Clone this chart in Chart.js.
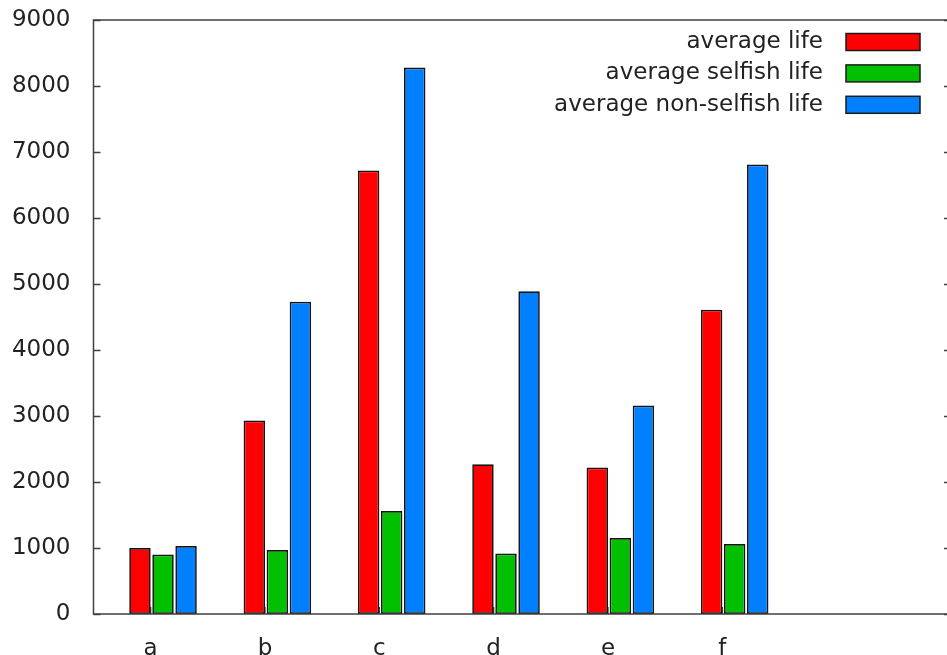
<!DOCTYPE html>
<html>
<head>
<meta charset="utf-8">
<script src="https://cdn.jsdelivr.net/npm/chart.js@4.4.1/dist/chart.umd.min.js"></script>
<style>
  html, body { margin:0; padding:0; background:#fff; overflow:hidden; }
  #wrap { width:952px; height:655px; position:relative; }
</style>
</head>
<body>
<div id="wrap"><canvas id="c"></canvas></div>
<script>
// data
const CATEGORIES = ['a', 'b', 'c', 'd', 'e', 'f'];
const SERIES = ['average life', 'average selfish life', 'average non-selfish life'];
const AVG_LIFE        = [1000, 2930, 6720, 2270, 2220, 4610];
const AVG_SELFISH     = [ 900,  970, 1560,  915, 1150, 1060];
const AVG_NON_SELFISH = [1030, 4730, 8280, 4890, 3160, 6810];
const Y_TICKS = [0, 1000, 2000, 3000, 4000, 5000, 6000, 7000, 8000, 9000];

const COLORS = ['#ff0000', '#00c000', '#0080ff'];
const FONT = { family: 'DejaVu Sans', size: 23, lineHeight: 1 };
const INK = '#222222';
const AXIS = '#404040';
const GROUP_SHIFT = 0.108; // bars sit a bit right of the tic, like gnuplot

const toPoints = vals => vals.map((v, i) => ({ x: i + GROUP_SHIFT, y: v }));

/* ticks pointing inward + frame, gnuplot style */
const framePlugin = {
  id: 'frame',
  beforeDatasetsDraw(chart) {
    const { ctx, chartArea: a, scales: { x, y } } = chart;
    ctx.save();
    ctx.strokeStyle = AXIS;
    ctx.lineWidth = 1.3;
    ctx.beginPath();
    y.ticks.forEach(t => {
      const py = Math.round(y.getPixelForValue(t.value)) + 0.5;
      ctx.moveTo(a.left, py); ctx.lineTo(a.left + 7, py);
      ctx.moveTo(a.right, py); ctx.lineTo(a.right - 7, py);
    });
    x.ticks.forEach(t => {
      const px = x.getPixelForValue(t.value);
      ctx.moveTo(px, a.bottom); ctx.lineTo(px, a.bottom - 7);
    });
    ctx.stroke();
    ctx.restore();
  },
  afterDatasetsDraw(chart) {
    const { ctx, chartArea: a } = chart;
    ctx.save();
    ctx.strokeStyle = AXIS;
    ctx.lineWidth = 1.5;
    ctx.strokeRect(a.left, a.top, a.right - a.left, a.bottom - a.top);
    ctx.restore();
  }
};

/* key: text first, swatch after, top right inside the plot */
const keyPlugin = {
  id: 'key',
  afterDraw(chart) {
    const { ctx, chartArea: a } = chart;
    ctx.save();
    ctx.font = `${FONT.size}px ${FONT.family}`;
    ctx.textAlign = 'right';
    ctx.textBaseline = 'middle';
    chart.data.datasets.forEach((ds, i) => {
      const cy = a.top + 22 + i * 31.4;
      ctx.fillStyle = INK;
      ctx.fillText(ds.label, a.right - 128, cy);
      ctx.fillStyle = ds.backgroundColor;
      ctx.fillRect(a.right - 105, cy - 8.5, 74, 17);
      ctx.strokeStyle = '#1a1a1a';
      ctx.lineWidth = 1.5;
      ctx.strokeRect(a.right - 105, cy - 8.5, 74, 17);
    });
    ctx.restore();
  }
};

const SERIES_VALUES = [AVG_LIFE, AVG_SELFISH, AVG_NON_SELFISH];

new Chart(document.getElementById('c'), {
  type: 'bar',
  data: {
    datasets: SERIES.map((name, i) => ({
      label: name,
      data: toPoints(SERIES_VALUES[i]),
      backgroundColor: COLORS[i],
      borderColor: '#141414',
      borderWidth: 1.7,
      borderSkipped: false,
      categoryPercentage: 0.605,
      barPercentage: 0.93
    }))
  },
  options: {
    responsive: true,
    maintainAspectRatio: false,
    animation: false,
    layout: { padding: { left: 12, top: 20, right: 1, bottom: 0 } },
    plugins: {
      legend: { display: false },
      tooltip: { enabled: false }
    },
    scales: {
      x: {
        type: 'linear',
        min: -0.5,
        max: 7,
        offset: false,
        grid: { display: false, drawTicks: false },
        border: { display: false },
        afterBuildTicks: ax => { ax.ticks = CATEGORIES.map((c, i) => ({ value: i })); },
        afterFit: ax => {
          ax.height = 41;
          ax.paddingLeft = 0; ax.paddingRight = 0;
        },
        ticks: {
          callback: v => CATEGORIES[v] ?? '',
          font: FONT, color: INK, padding: 24,
          maxRotation: 0, autoSkip: false
        }
      },
      y: {
        min: 0,
        max: 9000,
        grid: { display: false, drawTicks: false },
        border: { display: false },
        afterBuildTicks: ax => { ax.ticks = Y_TICKS.map(v => ({ value: v })); },
        afterFit: ax => {
          ax.width = 81.5;
          ax.paddingTop = 0; ax.paddingBottom = 0;
        },
        ticks: { font: FONT, color: INK, padding: 23, callback: v => String(v) }
      }
    }
  },
  plugins: [framePlugin, keyPlugin]
});
</script>
</body>
</html>
